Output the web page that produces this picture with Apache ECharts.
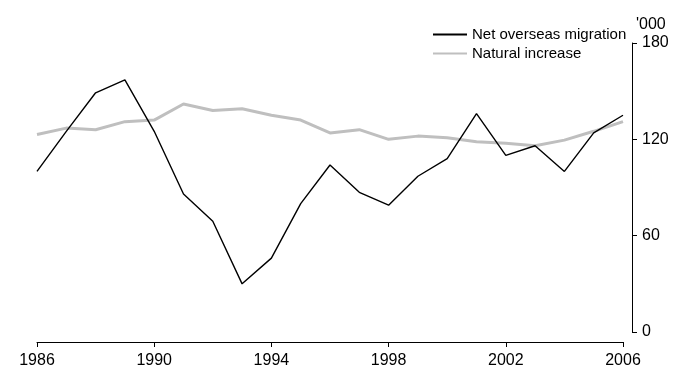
<!DOCTYPE html>
<html>
<head>
<meta charset="utf-8">
<script src="https://cdn.jsdelivr.net/npm/echarts@6/dist/echarts.min.js"></script>
<style>
  html, body { margin: 0; padding: 0; background: #fff; }
  #chart { width: 675px; height: 369px; }
</style>
</head>
<body>
<div id="chart"></div>
<script>
const years = ['1986', '1987', '1988', '1989', '1990', '1991', '1992', '1993', '1994', '1995', '1996',
  '1997', '1998', '1999', '2000', '2001', '2002', '2003', '2004', '2005', '2006']
const netOverseasMigration = [100, 125, 149, 157, 125, 86, 69, 30, 46, 80, 104,
  87, 79, 97, 108, 136, 110, 116, 100, 124, 135]
const naturalIncrease = [123, 127, 126, 131, 132, 142, 138, 139, 135, 132, 124,
  126, 120, 122, 121, 118.5, 117.5, 116, 119.5, 125, 131]
const yTicks = { min: 0, max: 180, interval: 60 }

const chart = echarts.init(document.getElementById('chart'))

const font = 'Liberation Sans, Arial, sans-serif'

const option = {
  animation: false,
  textStyle: { fontFamily: font, color: '#000' },
  legend: {
    orient: 'vertical',
    left: 427,
    top: 22,
    itemWidth: 34,
    itemHeight: 15,
    itemGap: 4,
    itemStyle: { opacity: 0 },
    textStyle: { fontSize: 15, color: '#000', fontFamily: font },
    data: ['Net overseas migration', 'Natural increase']
  },
  grid: {
    left: 37,
    right: 52,
    top: 43,
    bottom: 36
  },
  xAxis: {
    type: 'category',
    boundaryGap: false,
    data: years,
    offset: 10,
    axisLine: { onZero: false, lineStyle: { color: '#000', width: 1 } },
    axisTick: { interval: 3, length: 5, lineStyle: { color: '#000' } },
    axisLabel: { interval: 3, fontSize: 16, color: '#000', margin: 11, fontFamily: font },
    splitLine: { show: false }
  },
  yAxis: {
    type: 'value',
    position: 'right',
    offset: 9,
    min: yTicks.min,
    max: yTicks.max,
    interval: yTicks.interval,
    name: "'000",
    nameLocation: 'end',
    nameGap: 10,
    nameTextStyle: { fontSize: 16, color: '#000', align: 'left', padding: [0, 0, 0, 4], fontFamily: font },
    axisLine: { show: true, lineStyle: { color: '#000', width: 1 } },
    axisTick: { show: true, length: 5, lineStyle: { color: '#000' } },
    axisLabel: { fontSize: 16, color: '#000', margin: 10, fontFamily: font },
    splitLine: { show: false }
  },
  series: [
    {
      name: 'Natural increase',
      type: 'line',
      data: naturalIncrease,
      symbol: 'none',
      lineStyle: { color: '#bfbfbf', width: 3 },
      itemStyle: { color: '#bfbfbf' },
      z: 1
    },
    {
      name: 'Net overseas migration',
      type: 'line',
      data: netOverseasMigration,
      symbol: 'none',
      lineStyle: { color: '#000', width: 1.4 },
      itemStyle: { color: '#000' },
      z: 2
    }
  ]
}

chart.setOption(option)
</script>
</body>
</html>
